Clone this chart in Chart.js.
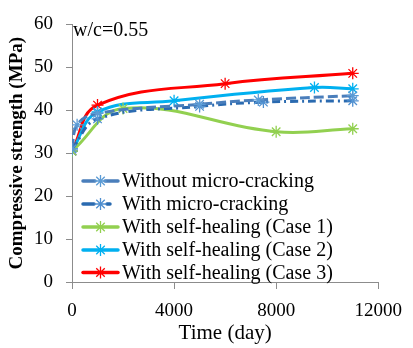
<!DOCTYPE html>
<html>
<head>
<meta charset="utf-8">
<script src="https://cdn.jsdelivr.net/npm/chart.js@4/dist/chart.umd.min.js"></script>
<style>
html,body{margin:0;padding:0;background:#fff;}
#wrap{width:413px;height:348px;position:relative;}
</style>
</head>
<body>
<div id="wrap"><canvas id="c" width="413" height="348"></canvas></div>
<script>
// ---- data ----
const seriesLabels = [
  "Without micro-cracking",
  "With micro-cracking",
  "With self-healing (Case 1)",
  "With self-healing (Case 2)",
  "With self-healing (Case 3)"
];
const withoutDays = [0, 200, 1000, 5000, 7300, 11000];
const withoutVals = [31, 36.6, 39.3, 41.4, 42.4, 43.4];
const withDays    = [0, 1000, 5000, 7500, 11000];
const withVals    = [31, 38.0, 40.9, 41.9, 42.2];
const case1Days   = [0, 2000, 8000, 11000];
const case1Vals   = [30.5, 40.4, 35.0, 35.7];
const case2Days   = [0, 1000, 4000, 9500, 11000];
const case2Vals   = [30.5, 39.6, 42.2, 45.3, 45.0];
const case3Days   = [0, 1000, 6000, 11000];
const case3Vals   = [30.5, 41.2, 46.2, 48.6];
const xTicks = [0, 4000, 8000, 12000];
const yTicks = [0, 10, 20, 30, 40, 50, 60];
const annotationText = "w/c=0.55";
const xTitle = "Time (day)";
const yTitle = "Compressive strength (MPa)";

function pts(xs, ys){ return xs.map((x,i)=>({x:x, y:ys[i]})); }

const serif = "'Liberation Serif','Times New Roman',serif";

const styles = [
  {color:'#4A7EBB', marker:'#5B9BD5', dash:[10,4], legendSegs:[[83,95],[105,118]]},
  {color:'#2A6AB0', marker:'#4F8FD0', dash:[8,4,2,4], legendSegs:[[83,94],[107,110]]},
  {color:'#92D050', marker:'#92D050', dash:[], legendSegs:[[83,118]]},
  {color:'#00B0F0', marker:'#00B0F0', dash:[], legendSegs:[[83,118]]},
  {color:'#FF0000', marker:'#FF0000', dash:[], legendSegs:[[83,118]]}
];
const allDays = [withoutDays, withDays, case1Days, case2Days, case3Days];
const allVals = [withoutVals, withVals, case1Vals, case2Vals, case3Vals];

const datasets = seriesLabels.map((lab,i)=>({
  label: lab,
  data: pts(allDays[i], allVals[i]),
  borderColor: styles[i].color,
  backgroundColor: styles[i].marker,
  borderWidth: 3,
  borderDash: styles[i].dash,
  tension: 0.4,
  pointStyle: 'star',
  pointRadius: 6,
  pointBorderWidth: 1.3,
  pointBorderColor: styles[i].marker,
  fill: false
}));

const legendPlugin = {
  id: 'inlineLegend',
  afterDraw(chart){
    const ctx = chart.ctx;
    ctx.save();
    // annotation
    ctx.fillStyle = '#000';
    ctx.font = "20px " + serif;
    ctx.textBaseline = 'middle';
    ctx.textAlign = 'left';
    ctx.fillText(annotationText, 73, 31);
    // legend
    const x0 = 83, x1 = 118, textX = 122;
    const rows = [181, 204, 227, 250, 272.5];
    ctx.font = "20px " + serif;
    chart.data.datasets.forEach((ds, i)=>{
      const y = rows[i];
      ctx.save();
      ctx.strokeStyle = ds.borderColor;
      ctx.lineWidth = 3.5;
      ctx.lineCap = 'round';
      styles[i].legendSegs.forEach(seg=>{
        ctx.beginPath(); ctx.moveTo(seg[0], y); ctx.lineTo(seg[1], y); ctx.stroke();
      });
      ctx.restore();
      ctx.save();
      ctx.strokeStyle = ds.pointBorderColor;
      ctx.lineWidth = 1.3;
      Chart.helpers.drawPoint(ctx, {pointStyle:'star', radius:6, borderWidth:1.3}, (x0+x1)/2, y);
      ctx.restore();
      ctx.fillStyle = '#000';
      ctx.fillText(ds.label, textX, y + 1);
    });
    ctx.restore();
  }
};

new Chart(document.getElementById('c'), {
  type: 'line',
  data: { datasets: datasets },
  plugins: [legendPlugin],
  options: {
    responsive: false,
    animation: false,
    devicePixelRatio: 1,
    layout: { padding: { top: 13, right: 27, bottom: 0, left: 0 } },
    plugins: { legend: { display: false }, tooltip: { enabled: false } },
    scales: {
      x: {
        type: 'linear',
        min: 0, max: 12000,
        afterBuildTicks(s){ s.ticks = xTicks.map(v=>({value:v})); },
        afterFit(s){ s.height = 66; },
        grid: { display: true, drawOnChartArea: false, drawTicks: true, tickLength: 7, color: '#8C8C8C', lineWidth: 1 },
        border: { display: true, color: '#8C8C8C', width: 1 },
        ticks: { color: '#000', font: { family: serif, size: 19 }, padding: 11, maxRotation: 0, callback: v => String(v) },
        title: { display: true, text: xTitle, color: '#000', font: { family: serif, size: 21 }, padding: { top: 0, bottom: 2 } }
      },
      y: {
        type: 'linear',
        min: 0, max: 60,
        afterBuildTicks(s){ s.ticks = yTicks.map(v=>({value:v})); },
        afterFit(s){ s.width = 72; },
        grid: { display: true, drawOnChartArea: false, drawTicks: true, tickLength: 6, color: '#8C8C8C', lineWidth: 1 },
        border: { display: true, color: '#8C8C8C', width: 1 },
        ticks: { color: '#000', font: { family: serif, size: 19 }, padding: 13, callback: v => String(v) },
        title: { display: true, text: yTitle, color: '#000', font: { family: serif, size: 19, weight: 'bold' }, padding: { top: 6, bottom: 0 } }
      }
    }
  }
});
</script>
</body>
</html>
